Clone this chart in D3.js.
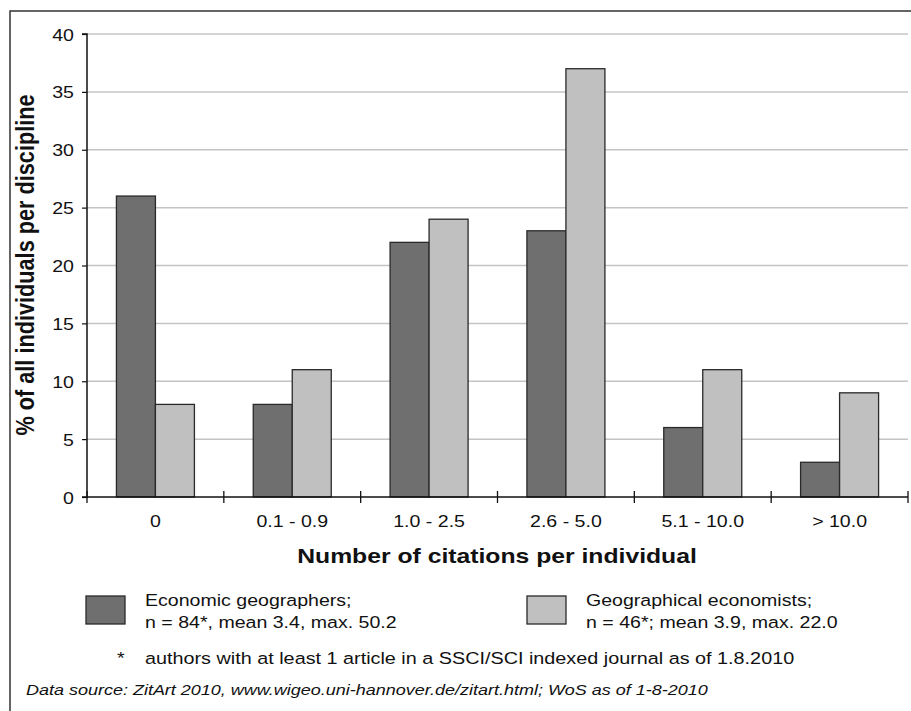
<!DOCTYPE html>
<html><head><meta charset="utf-8">
<script src="https://cdn.jsdelivr.net/npm/d3@7"></script>
<style>body{margin:0;background:#fff}svg{display:block}text{font-family:"Liberation Sans",Arial,sans-serif}</style>
</head><body>
<script>
const categories = ["0", "0.1 - 0.9", "1.0 - 2.5", "2.6 - 5.0", "5.1 - 10.0", "> 10.0"];
const econGeographers = [26, 8, 22, 23, 6, 3];
const geoEconomists = [8, 11, 24, 37, 11, 9];
const yTicks = [0, 5, 10, 15, 20, 25, 30, 35, 40];
const seriesNames = [["Economic geographers;", "n = 84*, mean 3.4, max. 50.2"], ["Geographical economists;", "n = 46*; mean 3.9, max. 22.0"]];

const W = 911, H = 711;
const SX = 1.2; // horizontal stretch of the text in the reference
const svg = d3.select("body").append("svg").attr("width", W).attr("height", H);
svg.append("rect").attr("x", 10).attr("y", 11).attr("width", 920).attr("height", 720)
  .attr("fill", "none").attr("stroke", "#333").attr("stroke-width", 1.5);

function txt(parent, x, y, s, size, opts = {}) {
  const t = parent.append("text")
    .attr("transform", `translate(${x},${y}) scale(${SX},1)` + (opts.rotate ? ` rotate(${opts.rotate})` : ""))
    .attr("font-size", size).attr("fill", "#111").text(s);
  if (opts.anchor) t.attr("text-anchor", opts.anchor);
  if (opts.weight) t.attr("font-weight", opts.weight);
  if (opts.style) t.attr("font-style", opts.style);
  return t;
}

const m = {l: 87, r: 908, t: 34, b: 497};
const x = d3.scaleBand().domain(categories).range([m.l, m.r]);
const y = d3.scaleLinear().domain([0, 40]).range([m.b, m.t]);

svg.append("g").selectAll("line").data(yTicks.filter(d => d > 0)).join("line")
  .attr("x1", m.l).attr("x2", m.r).attr("y1", d => y(d)).attr("y2", d => y(d))
  .attr("stroke", "#c4c4c4").attr("stroke-width", 1.5);

const bw = 39;
const colors = ["#6f6f6f", "#c0c0c0"];
const series = [econGeographers, geoEconomists];
series.forEach((vals, si) => {
  svg.append("g").selectAll("rect").data(vals).join("rect")
    .attr("x", (d, i) => x(categories[i]) + x.bandwidth() / 2 - bw + si * bw)
    .attr("y", d => y(d)).attr("width", bw).attr("height", d => y(0) - y(d))
    .attr("fill", colors[si]).attr("stroke", "#2a2a2a").attr("stroke-width", 1.3);
});

// y axis
const ya = svg.append("g").attr("transform", `translate(${m.l},0)`)
  .call(d3.axisLeft(y).tickValues(yTicks).tickSize(5));
ya.select(".domain").attr("stroke", "#111").attr("stroke-width", 1.5).attr("d", `M-5,${m.b}H0V${m.t}H-5`);
ya.selectAll(".tick line").attr("stroke", "#111").attr("stroke-width", 1.2);
ya.selectAll(".tick text").remove();
ya.selectAll(".tick").each(function(d) {
  txt(d3.select(this), -13, 6, String(d), 16.3, {anchor: "end"});
});

// x axis
const xa = svg.append("g").attr("transform", `translate(0,${m.b})`);
xa.append("line").attr("x1", m.l).attr("x2", m.r).attr("stroke", "#111").attr("stroke-width", 1.5);
const bounds = categories.map(c => x(c)).concat([m.r]);
xa.selectAll(".tk").data(bounds).join("line").attr("class", "tk")
  .attr("x1", d => d).attr("x2", d => d).attr("y1", -6).attr("y2", 6)
  .attr("stroke", "#111").attr("stroke-width", 1.3);
categories.forEach(c => txt(xa, x(c) + x.bandwidth() / 2, 30, c, 16.3, {anchor: "middle"}));

// axis titles
txt(svg, 497, 563, "Number of citations per individual", 20.6, {anchor: "middle", weight: "bold"});
txt(svg, 34, 265, "% of all individuals per discipline", 21.7, {anchor: "middle", weight: "bold", rotate: -90});

// legend
const legX = [86, 527];
seriesNames.forEach((lines, i) => {
  const g = svg.append("g").attr("transform", `translate(${legX[i]},596)`);
  g.append("rect").attr("width", 39).attr("height", 28).attr("fill", colors[i])
    .attr("stroke", "#2a2a2a").attr("stroke-width", 1.3);
  lines.forEach((t, j) => txt(g, 59, 10 + j * 22, t, 16.3));
});
txt(svg, 117, 664, "*", 16.3);
txt(svg, 145, 664, "authors with at least 1 article in a SSCI/SCI indexed journal as of 1.8.2010", 16.5);
txt(svg, 26, 695, "Data source: ZitArt 2010, www.wigeo.uni-hannover.de/zitart.html; WoS as of 1-8-2010", 15, {style: "italic"});
</script>
</body></html>
